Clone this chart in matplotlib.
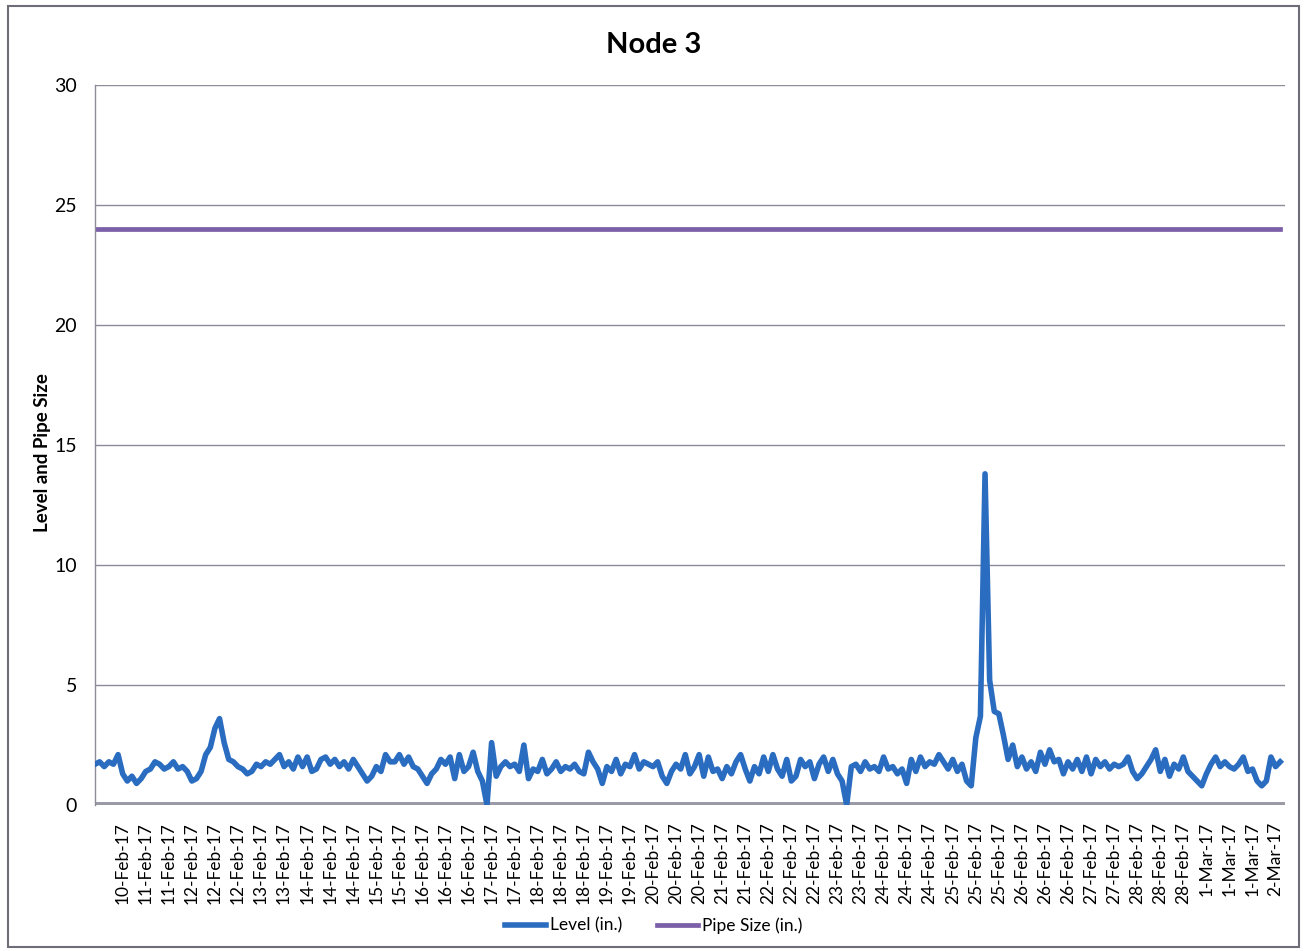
import numpy as np
import matplotlib.pyplot as plt
from matplotlib.patches import Rectangle

# level readings, one every 2 hours (in.)
level = [
	1.7, 1.8, 1.6, 1.8, 1.7, 2.1, 1.3, 1.0, 1.2, 0.9,
	1.1, 1.4, 1.5, 1.8, 1.7, 1.5, 1.6, 1.8, 1.5, 1.6,
	1.4, 1.0, 1.1, 1.4, 2.1, 2.4, 3.2, 3.6, 2.6, 1.9,
	1.8, 1.6, 1.5, 1.3, 1.4, 1.7, 1.6, 1.8, 1.7, 1.9,
	2.1, 1.6, 1.8, 1.5, 2.0, 1.6, 2.0, 1.4, 1.5, 1.9,
	2.0, 1.7, 1.9, 1.6, 1.8, 1.5, 1.9, 1.6, 1.3, 1.0,
	1.2, 1.6, 1.4, 2.1, 1.8,
	1.8, 2.1, 1.7, 2.0, 1.6, 1.5, 1.2, 0.9, 1.3, 1.5,
	1.9, 1.7, 2.0, 1.1, 2.1, 1.4, 1.6, 2.2, 1.4, 1.0,
	0.0, 2.6, 1.2, 1.6, 1.8, 1.6, 1.7, 1.4, 2.5, 1.1,
	1.5, 1.4, 1.9, 1.3, 1.5, 1.8, 1.4, 1.6, 1.5, 1.7,
	1.4, 1.3, 2.2, 1.8, 1.5, 0.9, 1.6, 1.4, 1.9, 1.3,
	1.7, 1.6, 2.1, 1.5, 1.8, 1.7, 1.6, 1.8, 1.2, 0.9,
	1.4, 1.7, 1.5, 2.1, 1.3,
	1.6, 2.1, 1.2, 2.0, 1.4, 1.5, 1.1, 1.6, 1.3, 1.8,
	2.1, 1.5, 1.0, 1.6, 1.3, 2.0, 1.4, 2.1, 1.5, 1.2,
	1.9, 1.0, 1.2, 1.9, 1.6, 1.8, 1.1, 1.7, 2.0, 1.4,
	1.9, 1.3, 1.0, 0.0, 1.6, 1.7, 1.4, 1.8, 1.5, 1.6,
	1.4, 2.0, 1.5, 1.6, 1.3, 1.5, 0.9, 1.9, 1.4, 2.0,
	1.6, 1.8, 1.7, 2.1, 1.8, 1.5, 1.9, 1.4, 1.7, 1.0,
	0.8, 2.8, 3.7, 13.8, 5.2,
	3.9, 3.8, 2.9, 1.9, 2.5, 1.6, 2.0, 1.5, 1.8, 1.4,
	2.2, 1.7, 2.3, 1.8, 1.9, 1.3, 1.8, 1.5, 1.9, 1.4,
	2.0, 1.3, 1.9, 1.6, 1.8, 1.5, 1.7, 1.6, 1.7, 2.0,
	1.4, 1.1, 1.3, 1.6, 1.9, 2.3, 1.4, 1.9, 1.2, 1.7,
	1.5, 2.0, 1.4, 1.2, 1.0, 0.8, 1.3, 1.7, 2.0, 1.6,
	1.8, 1.6, 1.5, 1.7, 2.0, 1.4, 1.5, 1.0, 0.8, 1.0,
	2.0, 1.6, 1.8,
]
pipe_size = 24.0

# category labels shown on the x axis (one every 5 readings)
tick_labels = [
	'10-Feb-17', '11-Feb-17', '11-Feb-17', '12-Feb-17', '12-Feb-17', '12-Feb-17',
	'13-Feb-17', '13-Feb-17', '14-Feb-17', '14-Feb-17', '14-Feb-17', '15-Feb-17',
	'15-Feb-17', '16-Feb-17', '16-Feb-17', '16-Feb-17', '17-Feb-17', '17-Feb-17',
	'18-Feb-17', '18-Feb-17', '18-Feb-17', '19-Feb-17', '19-Feb-17', '20-Feb-17',
	'20-Feb-17', '20-Feb-17', '21-Feb-17', '21-Feb-17', '22-Feb-17', '22-Feb-17',
	'22-Feb-17', '23-Feb-17', '23-Feb-17', '24-Feb-17', '24-Feb-17', '24-Feb-17',
	'25-Feb-17', '25-Feb-17', '25-Feb-17', '26-Feb-17', '26-Feb-17', '26-Feb-17',
	'27-Feb-17', '27-Feb-17', '28-Feb-17', '28-Feb-17', '28-Feb-17', '1-Mar-17',
	'1-Mar-17', '1-Mar-17', '2-Mar-17',
]
y_ticks = [0, 5, 10, 15, 20, 25, 30]

plt.rcParams['font.family'] = ['Lato', 'DejaVu Sans']

# declare figure
fig = plt.figure(figsize=(13.07, 9.51), dpi=100)
ax = fig.add_axes([0.0727, 0.1535, 0.9103, 0.7571])

n = len(level)
x = np.arange(n)

# grid and axes
for y in y_ticks[1:]:
	ax.axhline(y, color='#8c8c98', lw=1.0, zorder=1)
ax.axhline(0, color='#9a9aa6', lw=5, zorder=1)

# plot series
ax.plot(x, level, color='#2a6cc0', lw=4.0, solid_joinstyle='round', zorder=3, label='Level (in.)')
ax.plot(x, [pipe_size] * n, color='#7b5fa8', lw=3.4, zorder=2, label='Pipe Size (in.)')

ax.set_xlim(0, n)
ax.set_ylim(0, 30)
ax.set_yticks(y_ticks)
ax.set_yticklabels([str(v) for v in y_ticks], fontsize=14)
ax.tick_params(axis='y', length=0, pad=13)

pos = 6 + 5 * np.arange(len(tick_labels))
ax.set_xticks(pos)
ax.set_xticklabels(tick_labels, rotation=90, fontsize=12.5)
ax.tick_params(axis='x', length=0, pad=12)

for s in ['top', 'right', 'bottom']:
	ax.spines[s].set_visible(False)
ax.spines['left'].set_color('#8c8c98')
ax.spines['left'].set_linestyle((0, (1, 1)))
ax.spines['left'].set_linewidth(1.0)

ax.set_ylabel('Level and Pipe Size', fontsize=13.5, fontweight='bold')
ax.yaxis.set_label_coords(-0.037, 0.49)
fig.text(0.5, 0.953, 'Node 3', ha='center', va='center', fontsize=21, fontweight='bold')

fig.legend(loc='center', bbox_to_anchor=(0.5, 0.027), ncol=2, frameon=False,
	fontsize=12.5, handlelength=2.4, handletextpad=0.2, columnspacing=2.0)

# chart border
fig.add_artist(Rectangle((0.006, 0.004), 0.988, 0.99, transform=fig.transFigure,
	fill=False, edgecolor='#6e6e78', lw=1.5))

plt.savefig('out.png')
